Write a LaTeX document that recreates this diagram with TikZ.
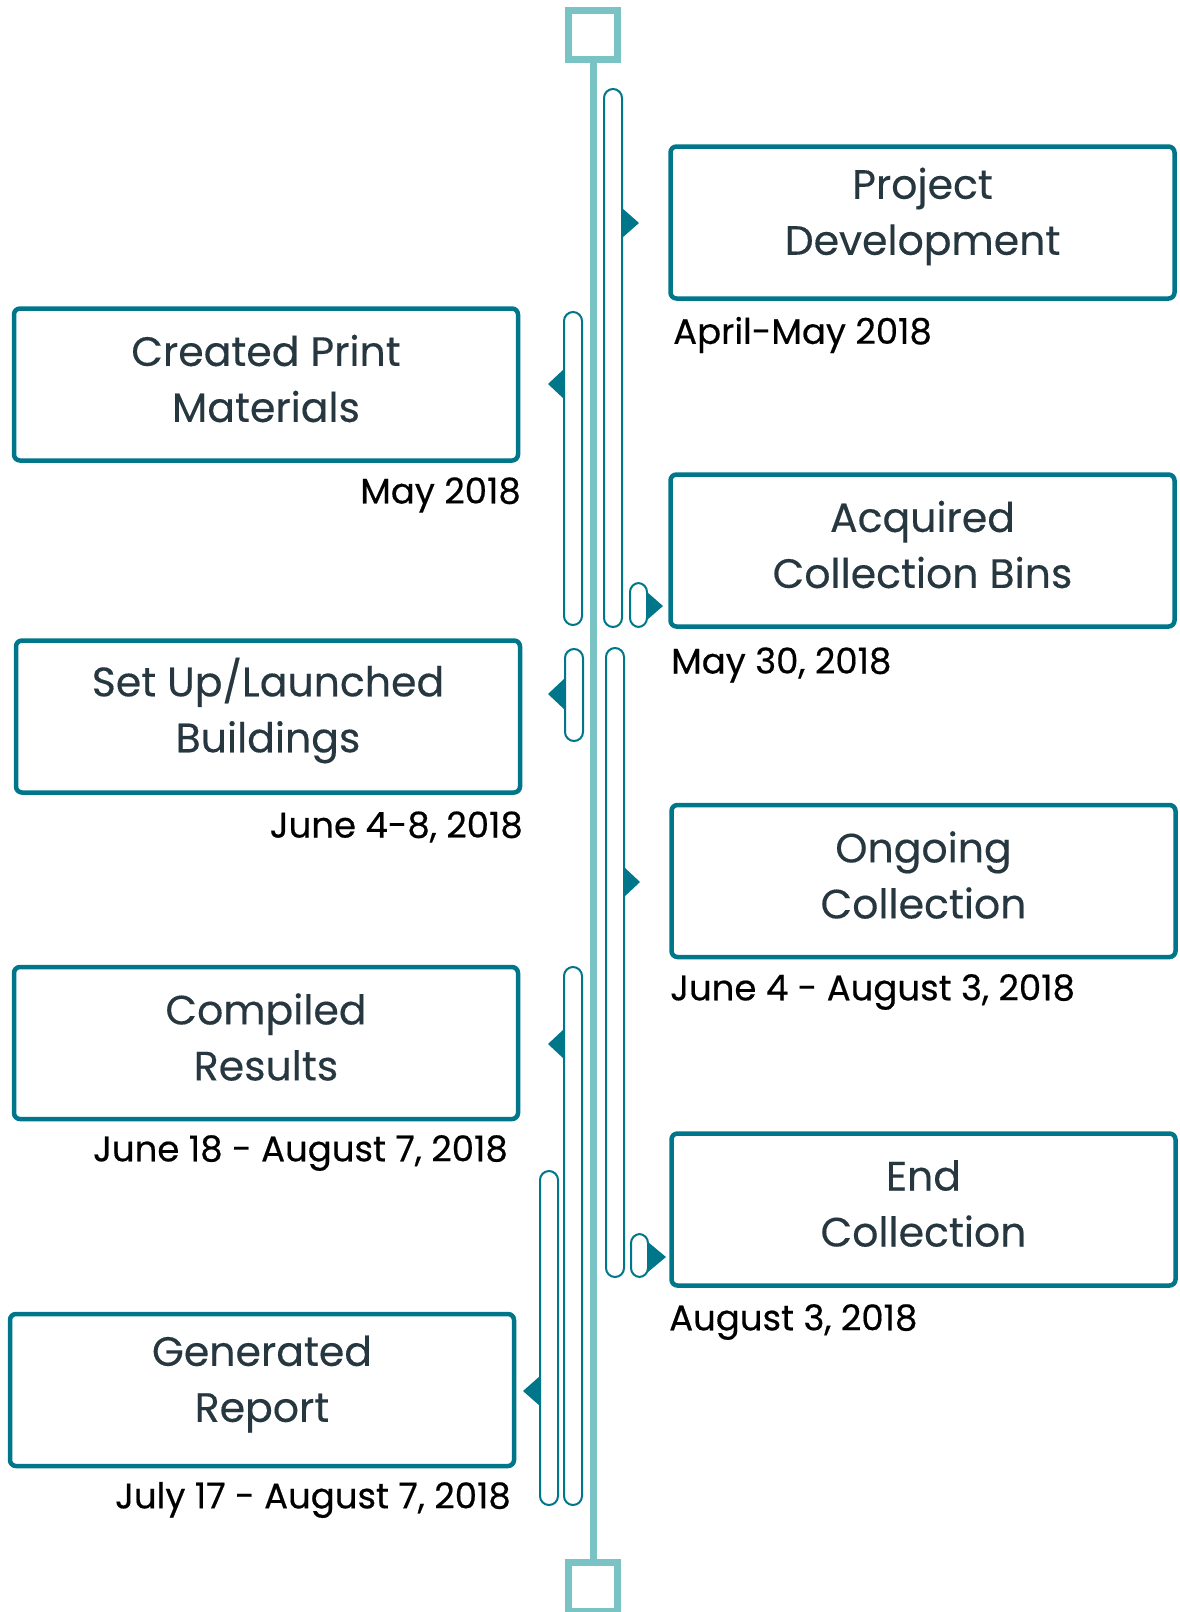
\documentclass[tikz,border=0pt]{standalone}
\usepackage{fontspec}
\setmainfont{Poppins}[FakeBold=0.3]
\newfontfamily\datefont{Poppins}[FakeBold=0.5]
\usetikzlibrary{positioning}
\definecolor{tealdark}{HTML}{00768A}
\definecolor{teallight}{HTML}{7AC3C4}
\definecolor{slate}{HTML}{263740}

\tikzset{
  box/.style={draw=tealdark, line width=4.5, rounded corners=6, minimum width=504, minimum height=152, inner sep=0},
  title/.style={text=slate, font=\fontsize{41}{56}\selectfont, align=center, inner sep=0},
  date/.style={text=black, font=\datefont\fontsize{35.5}{40}\selectfont, inner sep=0},
  pill/.style={draw=tealdark, fill=white, line width=2, minimum width=18, rounded corners=9, inner sep=0},
  endsq/.style={draw=teallight, fill=white, line width=7, minimum size=49, inner sep=0},
  pointer/.style={fill=tealdark},
}

\begin{document}
\begin{tikzpicture}[x=1pt, y=-1pt]
  \useasboundingbox (0,0) rectangle (1180,1612);
  \clip (0,0) rectangle (1180,1612);

  % Achse
  \node[endsq] (top) at (593,35) {};
  \node[endsq] (bot) at (593,1587) {};
  \draw[teallight, line width=7] (top.south) -- (bot.north);

  % Balken
  \node[pill, minimum height=538] (barA) at (613,358) {};
  \node[pill, minimum width=17, minimum height=44] (tabA) at (638.5,605) {};
  \node[pill, minimum height=313] (barB) at (573,468.5) {};
  \node[pill, minimum height=92] (tabB) at (574,695) {};
  \node[pill, minimum height=629] (barC) at (615,962.5) {};
  \node[pill, minimum width=17, minimum height=43] (tabC) at (639.5,1255.5) {};
  \node[pill, minimum height=538] (barD) at (573,1236) {};
  \node[pill, minimum height=334] (barE) at (549,1338) {};

  % Zeiger
  \fill[pointer] (622,208) -- (639,223) -- (622,238) -- cycle;
  \fill[pointer] (647,592) -- (663,606) -- (647,620) -- cycle;
  \fill[pointer] (624,867) -- (640,882) -- (624,897) -- cycle;
  \fill[pointer] (648,1242) -- (666,1257) -- (648,1272) -- cycle;
  \fill[pointer] (564,369) -- (548,384) -- (564,399) -- cycle;
  \fill[pointer] (565,678) -- (548,694) -- (565,710) -- cycle;
  \fill[pointer] (564,1029) -- (548,1044) -- (564,1059) -- cycle;
  \fill[pointer] (540,1376) -- (523,1391) -- (540,1406) -- cycle;

  % Kasten rechts
  \node[box] (dev) at (922.5,222.5) {};
  \node[title] at ([yshift=6]dev.center) {Project\\Development};
  \node[date, anchor=west] (devdate) at (673,335) {April-May 2018};

  \node[box] (bins) at (922.5,550.5) {};
  \node[title] at ([yshift=6]bins.center) {Acquired\\Collection Bins};
  \node[date, anchor=west] (binsdate) at (671,665) {May 30, 2018};

  \node[box] (ongoing) at (923.5,881) {};
  \node[title] at ([yshift=6]ongoing.center) {Ongoing\\Collection};
  \node[date, anchor=west] (ongoingdate) at (670,992) {June 4 - August 3, 2018};

  \node[box] (endcoll) at (923.5,1209.5) {};
  \node[title] at ([yshift=6]endcoll.center) {End\\Collection};
  \node[date, anchor=west] (endcolldate) at (669,1322) {August 3, 2018};

  % Kasten links
  \node[box] (print) at (266,384.5) {};
  \node[title] at ([yshift=6]print.center) {Created Print\\Materials};
  \node[date, anchor=east] (printdate) at (521,495) {May 2018};

  \node[box] (setup) at (268,716.5) {};
  \node[title] at ([yshift=6]setup.center) {Set Up/Launched\\Buildings};
  \node[date, anchor=east] (setupdate) at (523,827) {June 4-8, 2018};

  \node[box] (results) at (266,1043) {};
  \node[title] at ([yshift=6]results.center) {Compiled\\Results};
  \node[date, anchor=east] (resultsdate) at (508,1153) {June 18 - August 7, 2018};

  \node[box] (report) at (262,1390) {};
  \node[title] at ([yshift=6]report.center) {Generated\\Report};
  \node[date, anchor=east] (reportdate) at (511,1500) {July 17 - August 7, 2018};
\end{tikzpicture}
\end{document}
